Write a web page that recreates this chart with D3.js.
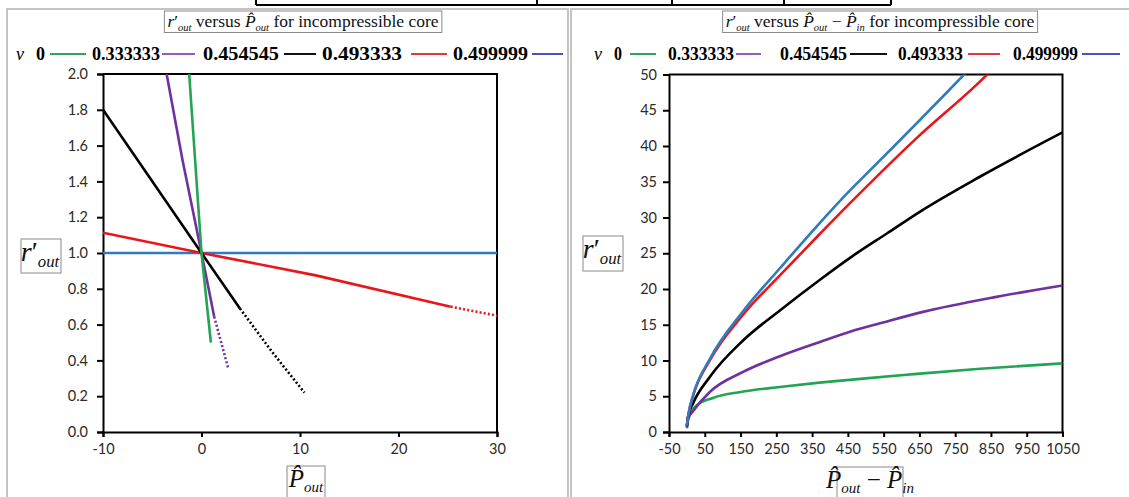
<!DOCTYPE html>
<html>
<head>
<meta charset="utf-8">
<script src="https://cdn.jsdelivr.net/npm/d3@7"></script>
<style>
body { margin: 0; background: #fff; }
svg { display: block; }
.axis text { font-family: Lato, 'Open Sans', sans-serif; font-size: 14.5px; fill: #2a2a2a; }
</style>
</head>
<body>
<svg id="chart" width="1129" height="497"></svg>
<script>
// Poisson ratio values shown in the legends
const nuLabels = ['0', '0.333333', '0.454545', '0.493333', '0.499999'];

// Left chart: r'out vs P_out  (solid = physical range, dotted = continuation)
const leftNu0 = [[-1.25, 2.0], [0, 1], [0.95, 0.5]];
const leftNu1 = [[-3.54, 2.0], [-1.93, 1.52], [0, 1], [1.29, 0.644]];
const leftNu1Dotted = [[1.29, 0.644], [2.74, 0.35]];
const leftNu2 = [[-10, 1.8], [-5.3, 1.425], [0, 1], [3.9, 0.69]];
const leftNu2Dotted = [[3.9, 0.69], [7.2, 0.445], [10.45, 0.22]];
const leftNu3 = [[-10, 1.113], [0, 1], [11.6, 0.875], [25.3, 0.70]];
const leftNu3Dotted = [[25.3, 0.70], [30, 0.65]];
const leftNu4 = [[-10, 1], [30, 1]];

const leftXTicks = [-10, 0, 10, 20, 30];
const leftYTicks = [0, 0.2, 0.4, 0.6, 0.8, 1.0, 1.2, 1.4, 1.6, 1.8, 2.0];

// Right chart: r'out vs (P_out - P_in)
const rightNu0 = [[0, 0.5], [3, 2.2], [25, 3.6], [75, 4.8], [150, 5.6], [260, 6.3], [370, 6.9], [500, 7.5], [614, 8.0], [820, 8.85], [1050, 9.6]];
const rightNu1 = [[0, 0.7], [5, 2.0], [17, 2.9], [64, 5.6], [157, 8.4], [260, 10.6], [372, 12.6], [460, 14.1], [540, 15.2], [660, 16.8], [865, 18.9], [1050, 20.5]];
const rightNu2 = [[0, 0.8], [5, 2.5], [17, 4.0], [64, 7.7], [157, 12.8], [260, 17.0], [372, 21.3], [460, 24.5], [560, 27.8], [651, 30.8], [819, 35.7], [1050, 41.9]];
const rightNu3 = [[0, 0.9], [5, 2.6], [17, 5.0], [64, 10.0], [157, 16.4], [260, 21.9], [360, 27.1], [456, 32.0], [640, 41.0], [819, 49.0], [860, 51.0]];
const rightNu4 = [[0, 0.9], [5, 2.7], [17, 5.1], [64, 10.2], [157, 16.9], [260, 22.9], [360, 28.6], [460, 34.0], [520, 37.0], [775, 50.0], [800, 51.3]];

const rightXTicks = [-50, 50, 150, 250, 350, 450, 550, 650, 750, 850, 950, 1050];
const rightYTicks = [0, 5, 10, 15, 20, 25, 30, 35, 40, 45, 50];

const lineColors = ['#23a455', '#7030a0', '#000000', '#e8161b', '#2e7bbf'];
const legendColors = ['#2fa35a', '#9a5bb8', '#111111', '#e0393e', '#4a4fc4'];

const svg = d3.select('#chart');
const serif = "'Liberation Serif', 'Times New Roman', serif";

// page furniture: bit of a table above, two chart panels
const furn = svg.append('g');
furn.append('line').attr('x1', 256).attr('x2', 891).attr('y1', 5).attr('y2', 5)
    .attr('stroke', '#000').attr('stroke-width', 2);
[256, 537, 672, 784, 891].forEach(x => {
    furn.append('line').attr('x1', x).attr('x2', x).attr('y1', 0).attr('y2', 5)
        .attr('stroke', '#000').attr('stroke-width', 2);
});
furn.append('rect').attr('x', 7).attr('y', 9).attr('width', 561).attr('height', 500)
    .attr('fill', '#fff').attr('stroke', '#c4c4c4').attr('stroke-width', 2);
furn.append('rect').attr('x', 571).attr('y', 9).attr('width', 570).attr('height', 500)
    .attr('fill', '#fff').attr('stroke', '#c4c4c4').attr('stroke-width', 2);

// text with italic / subscript pieces, e.g. r'_out
function mathText(g, x, y, parts, size, anchor) {
    const t = g.append('text')
        .attr('x', x).attr('y', y)
        .attr('font-family', serif)
        .attr('font-size', size + 'px')
        .attr('text-anchor', anchor || 'start')
        .attr('fill', '#111');
    let shifted = 0;
    parts.forEach(p => {
        const fs = p.sub ? size * 0.6 : size;
        const want = p.sub ? size * 0.2 : 0;
        t.append('tspan')
            .attr('font-style', p.i ? 'italic' : 'normal')
            .attr('font-size', fs + 'px')
            .attr('dy', want - shifted)
            .text(p.t);
        shifted = want;
    });
    return t;
}

function boxed(g, textSel, pad) {
    const b = textSel.node().getBBox();
    g.insert('rect', 'text')
        .attr('x', b.x - pad[0]).attr('y', b.y - pad[1])
        .attr('width', b.width + pad[0] * 2).attr('height', b.height + pad[1] * 2)
        .attr('fill', '#fff').attr('stroke', '#8a8a8a').attr('stroke-width', 1);
}

function boxAt(g, x, y, w, h) {
    g.append('rect').attr('x', x).attr('y', y).attr('width', w).attr('height', h)
        .attr('fill', '#fff').attr('stroke', '#8a8a8a').attr('stroke-width', 1);
}

const rOut = [{ t: 'r', i: true }, { t: '′' }, { t: 'out', i: true, sub: true }];
const pOut = [{ t: 'P\u0302', i: true }, { t: 'out', i: true, sub: true }];
const pIn = [{ t: 'P\u0302', i: true }, { t: 'in', i: true, sub: true }];

const hyphenInt = d => d3.format('d')(d).replace('−', '-');

function drawPlot(o) {
    const g = svg.append('g');
    const x = d3.scaleLinear().domain(o.xDomain).range(o.xRange);
    const y = d3.scaleLinear().domain(o.yDomain).range(o.yRange);

    // title
    const tg = g.append('g');
    const title = mathText(tg, o.titleX, 27, o.title, 17.5, 'middle');
    boxed(tg, title, [3, 0]);

    // legend
    const lg = g.append('g').attr('font-family', serif);
    lg.append('text').attr('x', o.legend.nuX).attr('y', 60)
        .attr('font-style', 'italic').attr('font-size', '18px').text('ν');
    nuLabels.forEach((lab, i) => {
        const [t0, t1] = o.legend.text[i];
        lg.append('text').attr('x', t0).attr('y', 60)
            .attr('font-weight', 'bold').attr('font-size', '18px')
            .attr('textLength', t1 - t0).attr('lengthAdjust', 'spacingAndGlyphs')
            .text(lab);
        const [l0, l1] = o.legend.line[i];
        lg.append('line').attr('x1', l0).attr('x2', l1).attr('y1', 54).attr('y2', 54)
            .attr('stroke', legendColors[i]).attr('stroke-width', 2);
    });

    // axes
    g.append('g').attr('class', 'axis')
        .attr('transform', `translate(${o.xRange[0]},0)`)
        .call(d3.axisLeft(y).tickValues(o.yTicks).tickFormat(d3.format(o.yFormat))
            .tickSizeOuter(0).tickSize(6).tickPadding(o.yPad));
    g.append('g').attr('class', 'axis')
        .attr('transform', `translate(0,${o.yRange[0]})`)
        .call(d3.axisBottom(x).tickValues(o.xTicks).tickFormat(hyphenInt)
            .tickSizeOuter(0).tickSize(5).tickPadding(7));
    g.selectAll('.axis path, .axis line').attr('stroke', '#000').attr('stroke-width', 2);

    // frame top + right
    g.append('path')
        .attr('d', `M${o.xRange[0]},${o.yRange[1]}H${o.xRange[1]}V${o.yRange[0]}`)
        .attr('fill', 'none').attr('stroke', '#000').attr('stroke-width', 2);

    // series
    const clipId = o.id + '-clip';
    g.append('clipPath').attr('id', clipId).append('rect')
        .attr('x', o.xRange[0]).attr('y', o.yRange[1])
        .attr('width', o.xRange[1] - o.xRange[0]).attr('height', o.yRange[0] - o.yRange[1]);
    const line = d3.line().x(d => x(d[0])).y(d => y(d[1])).curve(o.curve);
    const sg = g.append('g').attr('clip-path', `url(#${clipId})`);
    o.series.forEach(s => {
        sg.append('path').datum(s.data)
            .attr('d', line)
            .attr('fill', 'none')
            .attr('stroke', lineColors[s.k])
            .attr('stroke-width', 2.6)
            .attr('stroke-dasharray', s.dotted ? '2,2.2' : null)
            .attr('stroke-linejoin', 'round');
    });

    // axis labels
    const ylab = g.append('g');
    boxAt(ylab, o.yLab[0], o.yLab[1], o.yLab[2], o.yLab[3]);
    mathText(ylab, o.yLab[0] + o.yLab[2] / 2 - 1, o.yLab[1] + 22, rOut, 28, 'middle');
    const xlab = g.append('g');
    boxAt(xlab, o.xLab[0], o.xLab[1], o.xLab[2], o.xLab[3]);
    mathText(xlab, o.xLab[0] + o.xLab[2] / 2, o.xLab[1] + 21, o.xLabParts, 25, 'middle');
}

drawPlot({
    id: 'left',
    xDomain: [-10, 30], xRange: [103, 497],
    yDomain: [0, 2], yRange: [432, 74],
    xTicks: leftXTicks, yTicks: leftYTicks, yFormat: '.1f', yPad: 9,
    curve: d3.curveLinear,
    titleX: 303,
    title: [...rOut, { t: ' versus ' }, ...pOut, { t: '  for incompressible core' }],
    legend: {
        nuX: 16,
        text: [[36, 45], [92, 160], [203, 279], [322, 402], [453, 528]],
        line: [[50, 86], [162, 195], [284, 316], [411, 447], [532, 563]]
    },
    series: [
        { k: 4, data: leftNu4 },
        { k: 3, data: leftNu3 }, { k: 3, data: leftNu3Dotted, dotted: true },
        { k: 2, data: leftNu2 }, { k: 2, data: leftNu2Dotted, dotted: true },
        { k: 1, data: leftNu1 }, { k: 1, data: leftNu1Dotted, dotted: true },
        { k: 0, data: leftNu0 }
    ],
    yLab: [21, 239, 40, 34],
    xLab: [287, 466, 38, 34],
    xLabParts: pOut
});

drawPlot({
    id: 'right',
    xDomain: [-50, 1050], xRange: [669, 1062.5],
    yDomain: [0, 50], yRange: [432, 74.5],
    xTicks: rightXTicks, yTicks: rightYTicks, yFormat: 'd', yPad: 6,
    curve: d3.curveMonotoneX,
    titleX: 880,
    title: [...rOut, { t: ' versus ' }, ...pOut, { t: ' − ' }, ...pIn, { t: '  for incompressible core' }],
    legend: {
        nuX: 594,
        text: [[614, 622], [668, 734], [780, 847], [898, 963], [1013, 1078]],
        line: [[630, 656], [736, 761], [850, 887], [968, 1000], [1082, 1120]]
    },
    series: [
        { k: 0, data: rightNu0 },
        { k: 1, data: rightNu1 },
        { k: 2, data: rightNu2 },
        { k: 3, data: rightNu3 },
        { k: 4, data: rightNu4 }
    ],
    yLab: [583, 236, 40, 35],
    xLab: [837, 467, 66, 34],
    xLabParts: [...pOut, { t: ' − ' }, ...pIn]
});
</script>
</body>
</html>
